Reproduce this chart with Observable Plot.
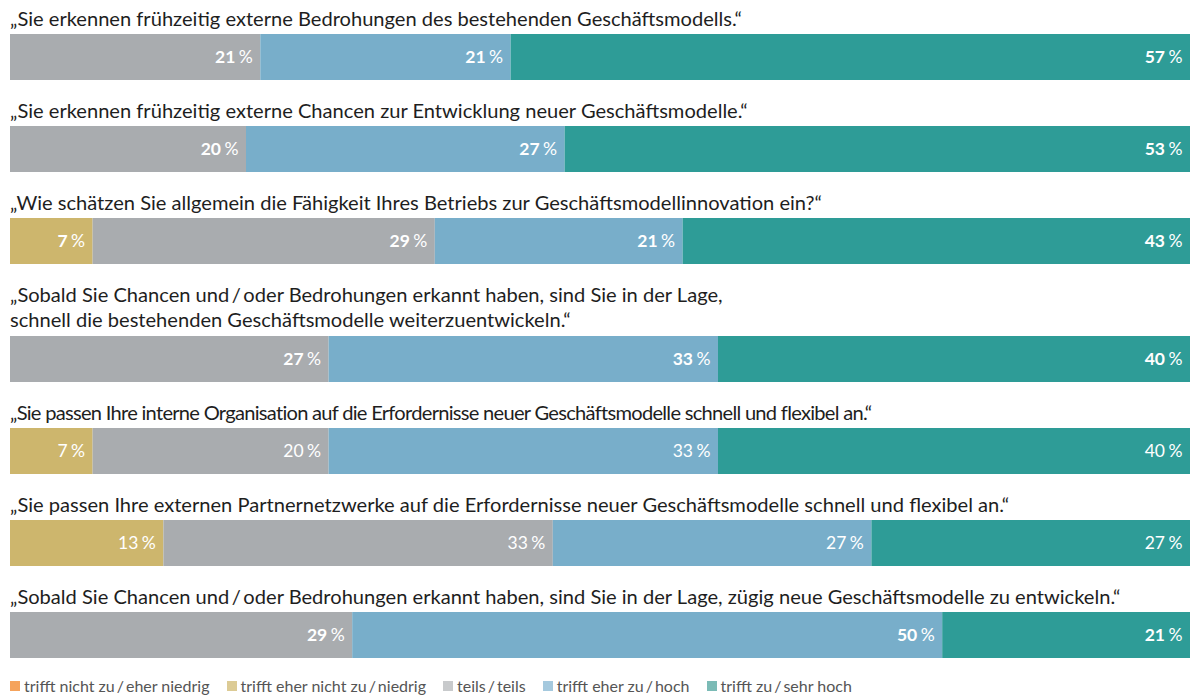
<!DOCTYPE html>
<html><head><meta charset="utf-8">
<script src="https://cdn.jsdelivr.net/npm/d3@7"></script>
<script src="https://cdn.jsdelivr.net/npm/@observablehq/plot@0.6"></script>
<style>
html,body{margin:0;background:#fff;}
body{position:relative;padding-top:6px;font-family:Lato,sans-serif;width:1190px;height:689px;}
.title{font-size:20.1px;line-height:24px;color:#1e1e1e;padding-left:10px;margin-bottom:4px;white-space:pre-line;}
.title.two{line-height:25px;}
.title.tight{letter-spacing:-0.72px;}
.block{margin-bottom:18px;}
.block svg{display:block;}
#legend{position:absolute;left:10px;top:677px;height:18px;}
#legend > div{min-height:18px !important;height:18px;margin:0 !important;align-items:center;line-height:18px;}
#legend span{margin-right:17px !important;line-height:18px;display:inline-flex;align-items:center;}
#legend svg{margin-right:4px !important;}
</style></head><body><div id="chart"></div><div id="legend"></div>
<script>
const questions = [
  "„Sie erkennen frühzeitig externe Bedrohungen des bestehenden Geschäftsmodells.“",
  "„Sie erkennen frühzeitig externe Chancen zur Entwicklung neuer Geschäftsmodelle.“",
  "„Wie schätzen Sie allgemein die Fähigkeit Ihres Betriebs zur Geschäftsmodellinnovation ein?“",
  "„Sobald Sie Chancen und\u2009/\u2009oder Bedrohungen erkannt haben, sind Sie in der Lage,\nschnell die bestehenden Geschäftsmodelle weiterzuentwickeln.“",
  "„Sie passen Ihre interne Organisation auf die Erfordernisse neuer Geschäftsmodelle schnell und flexibel an.“",
  "„Sie passen Ihre externen Partnernetzwerke auf die Erfordernisse neuer Geschäftsmodelle schnell und flexibel an.“",
  "„Sobald Sie Chancen und\u2009/\u2009oder Bedrohungen erkannt haben, sind Sie in der Lage, zügig neue Geschäftsmodelle zu entwickeln.“"
];
const categories = [
  "trifft nicht zu\u2009/\u2009eher niedrig",
  "trifft eher nicht zu\u2009/\u2009niedrig",
  "teils\u2009/\u2009teils",
  "trifft eher zu\u2009/\u2009hoch",
  "trifft zu\u2009/\u2009sehr hoch"
];
// percentages per question, in category order
const q1 = [0, 0, 21, 21, 57];
const q2 = [0, 0, 20, 27, 53];
const q3 = [0, 7, 29, 21, 43];
const q4 = [0, 0, 27, 33, 40];
const q5 = [0, 7, 20, 33, 40];
const q6 = [0, 13, 33, 27, 27];
const q7 = [0, 0, 29, 50, 21];
const series = [q1, q2, q3, q4, q5, q6, q7];
// label weight per question as seen in the reference
const labelWeights = ["bold", "bold", "bold", "bold", "normal", "normal", "bold"];

const palette = ["#f5a15a", "#cdb66d", "#a9acaf", "#78aeca", "#2e9c97"];
const legendPalette = ["#f5a35c", "#dccb95", "#c8cacc", "#a5c9de", "#7bbbb6"];

const chart = document.getElementById("chart");
questions.forEach((q, i) => {
  const rows = categories.map((c, j) => ({cat: c, value: series[i][j]})).filter(d => d.value > 0);
  const block = document.createElement("div");
  block.className = "block";
  const t = document.createElement("div");
  t.className = "title" + (q.includes("\n") ? " two" : "") + (i === 4 ? " tight" : "");
  t.textContent = q;
  block.appendChild(t);
  const plot = Plot.plot({
    width: 1190, height: 46,
    marginLeft: 10, marginRight: 0, marginTop: 0, marginBottom: 0,
    x: {domain: [0, 1], axis: null},
    color: {domain: categories, range: palette},
    style: {fontFamily: "Lato, sans-serif", background: "transparent"},
    marks: [
      Plot.barX(rows, Plot.stackX({x: "value", fill: "cat", offset: "normalize"})),
      Plot.text(rows, Plot.stackX2({x: "value", offset: "normalize", text: d => String(d.value),
        textAnchor: "end", dx: -25.5, fill: "white", fontSize: 17.5, fontWeight: labelWeights[i]})),
      Plot.text(rows, Plot.stackX2({x: "value", offset: "normalize", text: () => "%",
        textAnchor: "end", dx: -8, fill: "white", fontSize: 17.5, fontWeight: "normal"}))
    ]
  });
  block.appendChild(plot);
  chart.appendChild(block);
});

const legend = Plot.legend({
  color: {type: "ordinal", domain: categories, range: legendPalette},
  swatchSize: 10,
  className: "lg",
  style: {fontFamily: "Lato, sans-serif", fontSize: "16px", color: "#555"}
});
document.getElementById("legend").appendChild(legend);
</script>
</body></html>
